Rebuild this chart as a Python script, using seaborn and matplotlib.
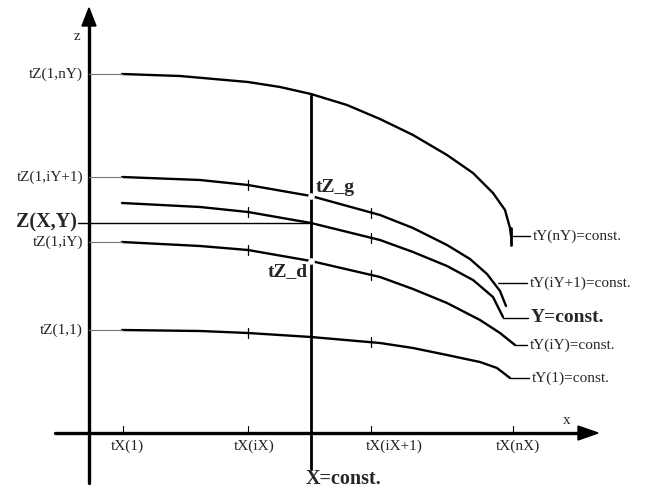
import numpy as np
import pandas as pd
import seaborn as sns
import matplotlib.pyplot as plt
from matplotlib.patches import Polygon

# --- data (pixel-like units, y grows downward) ---
tx_pos = [123, 248, 371, 513]
tx_label_pos = [127, 254, 394, 518]
tx_labels = ["tX(1)", "tX(iX)", "tX(iX+1)", "tX(nX)"]

curve_names = ["tY(nY)=const.", "tY(iY+1)=const.", "Y=const.", "tY(iY)=const.", "tY(1)=const."]
left_labels = ["tZ(1,nY)", "tZ(1,iY+1)", "Z(X,Y)", "tZ(1,iY)", "tZ(1,1)"]

nY_x = [122, 180, 248, 280, 311, 347, 380, 413, 447, 473, 493, 505, 510, 511]
nY_y = [74, 76, 82, 87, 94, 105, 119, 135, 155, 173, 193, 210, 228, 236]
iY1_x = [122, 200, 248, 311, 380, 413, 447, 470, 487, 500, 506]
iY1_y = [177, 180, 185, 196, 215, 228, 245, 259, 274, 291, 306]
Y_x = [122, 200, 248, 311, 380, 413, 447, 473, 493, 503]
Y_y = [203, 207, 212, 223, 240, 252, 266, 280, 297, 317]
iY_x = [122, 200, 248, 311, 380, 413, 447, 480, 500, 515]
iY_y = [242, 246, 250, 261, 277, 289, 303, 320, 333, 345]
c1_x = [122, 200, 248, 311, 380, 413, 447, 480, 497, 510]
c1_y = [330, 331, 333, 337, 343, 348, 355, 362, 368, 378]

curves = [(nY_x, nY_y), (iY1_x, iY1_y), (Y_x, Y_y), (iY_x, iY_y), (c1_x, c1_y)]

sns.set_style("white")
plt.rcParams['font.family'] = ['Liberation Serif', 'DejaVu Serif']

fig = plt.figure(figsize=(6.48, 4.91), dpi=100)
ax = fig.add_axes([0, 0, 1, 1])
ax.set_xlim(0, 648)
ax.set_ylim(491, 0)
ax.axis('off')

# curves
for (cx, cy) in curves:
    sns.lineplot(x=cx, y=cy, sort=False, color='k', lw=1.7, ax=ax)

# axes
ax.plot([89, 89], [22, 483], color='k', lw=2.4)
ax.plot([55, 582], [433, 433], color='k', lw=2.4)
ax.add_patch(Polygon([[89, 8], [82, 26], [96, 26]], closed=True, color='k'))
ax.add_patch(Polygon([[598, 433], [578, 426], [578, 440]], closed=True, color='k'))
ax.text(77, 36, "z", fontsize=11, ha='center', va='center')
ax.text(567, 421, "x", fontsize=11, ha='center', va='center')

# x ticks
for p, lp, lab in zip(tx_pos, tx_label_pos, tx_labels):
    ax.plot([p, p], [426, 433], color='k', lw=0.8)
    ax.text(lp, 446, lab, fontsize=11, ha='center', va='center')

# X = const line
ax.plot([311, 311], [94, 469], color='k', lw=2.0)
ax.text(343, 479, "X=const.", fontsize=14.5, fontweight='bold', ha='center', va='center')

# left labels and guides
for (cx, cy), lab in zip(curves, left_labels):
    if lab == "Z(X,Y)":
        continue
    ax.plot([89, cx[0]], [cy[0], cy[0]], color='0.45', lw=0.8)
    ax.text(83, cy[0], lab, fontsize=11, ha='right', va='center')
ax.plot([78, 311], [223, 223], color='k', lw=1.0)
ax.text(77, 222, "Z(X,Y)", fontsize=14.5, fontweight='bold', ha='right', va='center')

# small ticks on curves
for (cx, cy) in curves[1:]:
    for p in [248, 371]:
        yy = np.interp(p, cx, cy)
        ax.plot([p, p], [yy - 5, yy + 5], color='k', lw=0.9)

# right leaders and labels
ends = [(511, 236, 530), (498, 283, 527), (503, 318, 528), (515, 345, 527), (510, 378, 529)]
for (x0, y0, x1), name in zip(ends, curve_names):
    ax.plot([x0, x1], [y0, y0], color='k', lw=1.0)
    bold = name == "Y=const."
    ax.text(x1 + 3, y0, name, fontsize=14 if bold else 11,
            fontweight='bold' if bold else 'normal', ha='left', va='center')
ax.plot([511, 511], [228, 245], color='k', lw=2.0)

# intersection points
ax.scatter([311, 311], [196, 261], s=14, color='white', zorder=5)
ax.text(316, 187, "tZ_g", fontsize=14, fontweight='bold', ha='left', va='center')
ax.text(308, 272, "tZ_d", fontsize=14, fontweight='bold', ha='right', va='center')

fig.savefig("out.png", dpi=100)
